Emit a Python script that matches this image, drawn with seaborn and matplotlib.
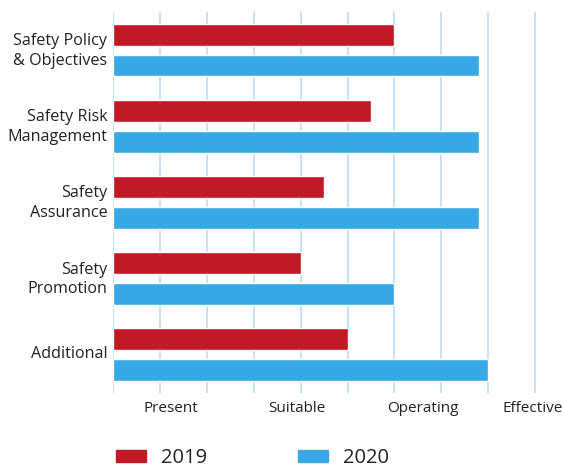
import pandas as pd
import matplotlib
matplotlib.use("Agg")
import matplotlib.pyplot as plt
import matplotlib.patches as mpatches
import matplotlib.transforms as mtransforms
import seaborn as sns

# chart data
categories = ["Safety Policy\n& Objectives", "Safety Risk\nManagement", "Safety\nAssurance",
              "Safety\nPromotion", "Additional"]
years = ["2019", "2020"]
values_2019 = [6.0, 5.5, 4.5, 4.0, 5.0]
values_2020 = [7.8, 7.8, 7.8, 6.0, 8.0]
level_labels = ["Present", "Suitable", "Operating", "Effective"]
level_pos = [1.24, 3.92, 6.61, 8.95]

colors = {"2019": "#c01a27", "2020": "#38a8e7"}

df = pd.DataFrame({
    "category": categories * 2,
    "year": ["2019"] * len(categories) + ["2020"] * len(categories),
    "score": values_2019 + values_2020,
})

sns.set_style("white")
plt.rcParams["font.family"] = ["Open Sans", "DejaVu Sans"]

fig = plt.figure(figsize=(5.63, 4.68), dpi=100)
ax = fig.add_axes([0.2007, 0.1603, 0.754, 0.8141])

sns.barplot(data=df, y="category", x="score", hue="year", palette=colors,
            orient="h", width=0.81, gap=0.29, saturation=1, legend=False, ax=ax)

ax.set_xlim(0, 9.05)
ax.set_ylim(4.5, -0.5)
ax.set_xticks(range(10))
ax.tick_params(axis="x", which="major", length=0, labelbottom=False)
ax.set_xticks(level_pos, level_labels, minor=True)
ax.tick_params(axis="x", which="minor", length=0, pad=6, labelsize=11, labelcolor="#222222")
ax.tick_params(axis="y", length=0, pad=4, labelsize=11.6, labelcolor="#222222")
shift = mtransforms.ScaledTranslation(0, 3 / 100, fig.dpi_scale_trans)
for lab in ax.get_yticklabels():
    lab.set_linespacing(1.3)
    lab.set_transform(lab.get_transform() + shift)
ax.grid(axis="x", which="major", color="#b9d9f2", linewidth=1.1)
ax.set_axisbelow(True)
for s in ax.spines.values():
    s.set_visible(False)
ax.set_xlabel("")
ax.set_ylabel("")

handles = [mpatches.Patch(color=colors[y], label=y) for y in years]
fig.legend(handles=handles, loc="lower left", bbox_to_anchor=(0.173, -0.039), ncol=2,
           frameon=False, fontsize=14.5, handlelength=1.5, handleheight=0.6,
           handletextpad=0.75, columnspacing=4.5, labelcolor="#222222")

fig.savefig("out.png", dpi=100)
